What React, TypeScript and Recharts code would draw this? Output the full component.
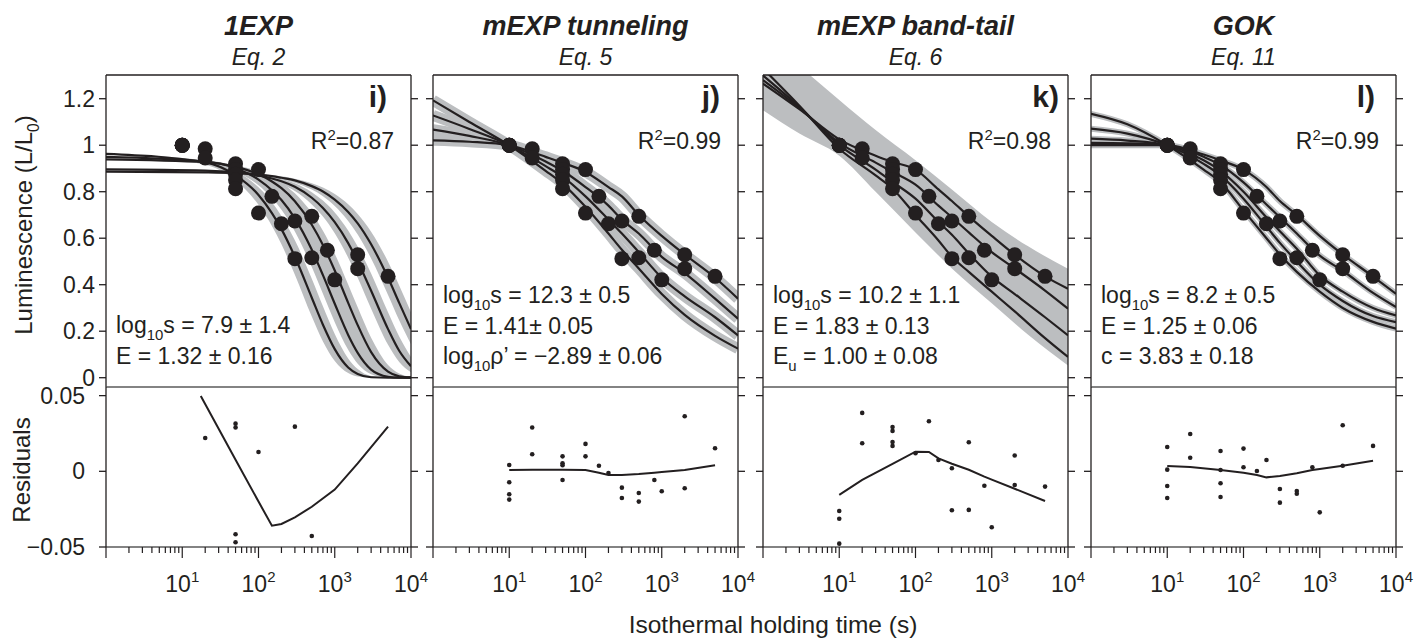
import React from 'react';
import { ComposedChart, Line, Area, Scatter, XAxis, YAxis, ReferenceLine } from 'recharts';

const INK = '#231f20';
const BAND = '#bcbec0';
const RULE = '#5a5a5a';
const FONT = '"Liberation Sans", Arial, Helvetica, sans-serif';

// layout (px)
const PANEL_LEFTS = [106, 433, 763, 1091];
const PLOT_W = 305;
const LEFT_W = 90;
const RIGHT_W = 26;
const PAD = 2;
const RES_PAD = 14;
const TOP_Y = 75;
const MID_Y = 387;
const BOT_Y = 547;
const X_H = 56;
const TOP_SPARE = 12;

// measured luminescence points (identical in every panel)
const pointTimes = [10, 10, 10, 10, 10, 20, 20, 50, 50, 50, 50, 50, 100, 100, 150, 200, 300, 300, 500, 500, 800, 1000, 2000, 2000, 5000];
const pointLum = [1.0, 1.0, 1.0, 1.0, 1.0, 0.985, 0.945, 0.92, 0.895, 0.875, 0.85, 0.813, 0.895, 0.708, 0.78, 0.662, 0.674, 0.512, 0.694, 0.516, 0.548, 0.421, 0.529, 0.469, 0.436];

// axis ticks
const lumTicks = [0, 0.2, 0.4, 0.6, 0.8, 1, 1.2];
const resTicks = [-0.05, 0, 0.05];
const xTicks = [
  1, 2, 3, 4, 5, 6, 7, 8, 9,
  10, 20, 30, 40, 50, 60, 70, 80, 90,
  100, 200, 300, 400, 500, 600, 700, 800, 900,
  1000, 2000, 3000, 4000, 5000, 6000, 7000, 8000, 9000,
  10000,
];
const xMajorLabels: Record<number, string> = { 10: '1', 100: '2', 1000: '3', 10000: '4' };
const xMajors = [1, 10, 100, 1000, 10000];
const LUM_DOMAIN = [-0.04, 1.302];
const RES_DOMAIN = [-0.05, 0.0557];

// panel i) 1EXP fitted curves and confidence bands
const p1Times = [1, 20, 50, 100, 150, 200, 300, 500, 700, 1000, 1500, 2000, 3000, 5000, 7000, 10000];
const p1c1 = [0.963, 0.926, 0.870, 0.786, 0.708, 0.639, 0.520, 0.344, 0.228, 0.123, 0.044, 0.016, 0.002, 0, 0, 0];
const p1lo1 = [0.962, 0.916, 0.847, 0.744, 0.653, 0.574, 0.443, 0.263, 0.156, 0.072, 0.020, 0.005, 0, 0, 0, 0];
const p1hi1 = [0.963, 0.934, 0.889, 0.819, 0.755, 0.696, 0.591, 0.426, 0.307, 0.188, 0.083, 0.037, 0.007, 0, 0, 0];
const p1c2 = [0.950, 0.930, 0.901, 0.852, 0.806, 0.764, 0.685, 0.550, 0.441, 0.318, 0.184, 0.107, 0.035, 0.004, 0, 0];
const p1lo2 = [0.950, 0.925, 0.887, 0.828, 0.773, 0.722, 0.629, 0.476, 0.361, 0.239, 0.120, 0.060, 0.015, 0.001, 0, 0];
const p1hi2 = [0.950, 0.935, 0.910, 0.872, 0.835, 0.799, 0.732, 0.615, 0.517, 0.398, 0.258, 0.166, 0.070, 0.012, 0.002, 0];
const p1c3 = [0.939, 0.927, 0.907, 0.875, 0.844, 0.815, 0.759, 0.658, 0.571, 0.461, 0.322, 0.226, 0.110, 0.026, 0.006, 0.001];
const p1lo3 = [0.939, 0.923, 0.899, 0.859, 0.822, 0.785, 0.717, 0.600, 0.501, 0.383, 0.243, 0.155, 0.063, 0.010, 0.002, 0];
const p1hi3 = [0.939, 0.930, 0.914, 0.888, 0.863, 0.839, 0.793, 0.708, 0.632, 0.533, 0.401, 0.303, 0.172, 0.055, 0.018, 0.003];
const p1c4 = [0.896, 0.891, 0.883, 0.870, 0.857, 0.845, 0.821, 0.774, 0.730, 0.669, 0.579, 0.500, 0.374, 0.209, 0.116, 0.049];
const p1lo4 = [0.896, 0.890, 0.880, 0.864, 0.848, 0.832, 0.803, 0.745, 0.693, 0.621, 0.516, 0.430, 0.297, 0.142, 0.068, 0.023];
const p1hi4 = [0.896, 0.892, 0.886, 0.875, 0.866, 0.856, 0.836, 0.798, 0.762, 0.711, 0.633, 0.564, 0.448, 0.281, 0.177, 0.089];
const p1c5 = [0.886, 0.883, 0.880, 0.874, 0.867, 0.860, 0.849, 0.824, 0.801, 0.766, 0.713, 0.664, 0.574, 0.430, 0.322, 0.209];
const p1lo5 = [0.886, 0.882, 0.878, 0.870, 0.862, 0.854, 0.839, 0.809, 0.780, 0.738, 0.674, 0.616, 0.513, 0.356, 0.247, 0.144];
const p1hi5 = [0.886, 0.884, 0.881, 0.876, 0.871, 0.866, 0.856, 0.836, 0.818, 0.790, 0.746, 0.704, 0.628, 0.499, 0.397, 0.281];

// panel j) mEXP tunneling
const p2Times = [1, 3, 10, 30, 50, 100, 200, 300, 500, 1000, 2000, 5000, 10000];
const p2c1 = [1.193, 1.10, 1.0, 0.89, 0.835, 0.735, 0.62, 0.55, 0.47, 0.36, 0.27, 0.18, 0.125];
const p2c2 = [1.128, 1.07, 1.0, 0.91, 0.865, 0.78, 0.68, 0.62, 0.54, 0.43, 0.35, 0.26, 0.182];
const p2c3 = [1.067, 1.04, 1.0, 0.93, 0.89, 0.82, 0.74, 0.68, 0.62, 0.52, 0.45, 0.34, 0.254];
const p2c4 = [1.021, 1.015, 1.0, 0.95, 0.925, 0.885, 0.82, 0.78, 0.70, 0.61, 0.53, 0.43, 0.34];

// panel k) mEXP band-tail
const p3Times = [1, 3, 10, 30, 50, 100, 200, 300, 500, 1000, 2000, 5000, 10000];
const p3c1 = [1.33, 1.17, 0.985, 0.87, 0.813, 0.70, 0.59, 0.52, 0.455, 0.37, 0.285, 0.17, 0.089];
const p3c2 = [1.30, 1.165, 1.0, 0.895, 0.842, 0.77, 0.67, 0.615, 0.535, 0.435, 0.36, 0.26, 0.182];
const p3c3 = [1.28, 1.16, 1.01, 0.925, 0.885, 0.83, 0.74, 0.69, 0.625, 0.54, 0.47, 0.375, 0.297];
const p3c4 = [1.265, 1.155, 1.025, 0.955, 0.928, 0.895, 0.81, 0.76, 0.694, 0.61, 0.529, 0.436, 0.383];
const p3BandTimes = [1, 3, 10, 30, 100, 300, 1000, 3000, 10000];
const p3BandLo = [1.15, 1.05, 0.955, 0.80, 0.625, 0.47, 0.32, 0.185, 0.053];
const p3BandHi = [1.47, 1.34, 1.195, 1.065, 0.935, 0.81, 0.67, 0.565, 0.469];

// panel l) GOK
const p4Times = [1, 3, 10, 30, 50, 100, 200, 300, 500, 1000, 2000, 5000, 10000];
const p4c1 = [1.135, 1.09, 1.0, 0.895, 0.84, 0.72, 0.60, 0.53, 0.455, 0.37, 0.30, 0.24, 0.211];
const p4c2 = [1.071, 1.05, 1.0, 0.92, 0.87, 0.77, 0.65, 0.58, 0.50, 0.40, 0.33, 0.265, 0.239];
const p4c3 = [1.028, 1.02, 1.0, 0.935, 0.89, 0.80, 0.69, 0.63, 0.555, 0.44, 0.37, 0.30, 0.268];
const p4c4 = [1.01, 1.008, 1.0, 0.95, 0.915, 0.84, 0.745, 0.69, 0.62, 0.525, 0.46, 0.365, 0.304];
const p4c5 = [1.0, 1.0, 1.0, 0.96, 0.935, 0.895, 0.82, 0.76, 0.70, 0.61, 0.53, 0.435, 0.361];

// residuals: points and trend lines
const r1Times = [20, 50, 50, 50, 50, 100, 300, 500];
const r1Values = [0.022, 0.0315, 0.0289, -0.0416, -0.0469, 0.0128, 0.0295, -0.0427];
const r1LineTimes = [17.5, 50, 100, 150, 200, 300, 500, 1000, 2000, 5000];
const r1LineValues = [0.0497, 0.0077, -0.02, -0.0359, -0.0348, -0.0304, -0.0234, -0.0121, 0.0053, 0.0295];

const r2Times = [10, 10, 10, 10, 20, 20, 50, 50, 50, 50, 100, 100, 150, 200, 300, 300, 500, 500, 800, 1000, 2000, 2000, 5000];
const r2Values = [0.0042, -0.0072, -0.0152, -0.0187, 0.0289, 0.0113, 0.0099, 0.0053, 0.004, -0.0057, 0.0181, 0.0099, 0.0037, -0.0011, -0.0108, -0.0176, -0.0143, -0.02, -0.0057, -0.0132, 0.0364, -0.0112, 0.0152];
const r2LineTimes = [10, 20, 50, 100, 150, 200, 300, 500, 800, 1000, 2000, 5000];
const r2LineValues = [0.0009, 0.0011, 0.0011, 0.0009, -0.0009, -0.0024, -0.0024, -0.0018, -0.0009, -0.0005, 0.0009, 0.004];

const r3Times = [10, 10, 10, 20, 20, 50, 50, 50, 50, 100, 150, 200, 300, 300, 500, 500, 800, 1000, 2000, 2000, 5000];
const r3Values = [-0.0262, -0.0313, -0.0478, 0.0386, 0.0185, 0.0293, 0.0267, 0.0194, 0.0168, 0.0119, 0.0331, 0.0075, 0.002, -0.0257, 0.0192, -0.0255, -0.0095, -0.037, 0.0104, -0.009, -0.0101];
const r3LineTimes = [10, 20, 50, 100, 150, 200, 300, 500, 800, 1000, 2000, 5000];
const r3LineValues = [-0.0156, -0.0057, 0.0049, 0.013, 0.0128, 0.0085, 0.005, 0.001, -0.0035, -0.0055, -0.0115, -0.0196];

const r4Times = [10, 10, 10, 10, 20, 20, 50, 50, 50, 50, 100, 100, 150, 200, 300, 300, 500, 500, 800, 1000, 2000, 2000, 5000];
const r4Values = [0.0161, 0.0011, -0.0097, -0.0176, 0.0247, 0.009, 0.0134, 0.0009, -0.0079, -0.017, 0.015, 0.0027, 0.0002, 0.0075, -0.0117, -0.0207, -0.013, -0.0148, 0.0027, -0.0271, 0.0304, 0.0037, 0.0168];
const r4LineTimes = [10, 20, 50, 100, 150, 200, 300, 500, 800, 1000, 2000, 5000];
const r4LineValues = [0.0035, 0.0029, 0.0009, -0.0009, -0.0024, -0.004, -0.0031, -0.0013, 0.0009, 0.0016, 0.0037, 0.007];

// text
const titles = ['1EXP', 'mEXP tunneling', 'mEXP band-tail', 'GOK'];
const eqLabels = ['Eq. 2', 'Eq. 5', 'Eq. 6', 'Eq. 11'];
const panelTags = ['i)', 'j)', 'k)', 'l)'];
const tagRight = [387, 720, 1059, 1375];
const r2Labels = ['0.87', '0.99', '0.98', '0.99'];

type Seg = [string, ('sub' | 'sup')?];
const fitText: Seg[][][] = [
  [
    [['log'], ['10', 'sub'], ['s = 7.9 ± 1.4']],
    [['E = 1.32 ± 0.16']],
  ],
  [
    [['log'], ['10', 'sub'], ['s = 12.3 ± 0.5']],
    [['E = 1.41± 0.05']],
    [['log'], ['10', 'sub'], ['ρ’ = −2.89 ± 0.06']],
  ],
  [
    [['log'], ['10', 'sub'], ['s = 10.2 ± 1.1']],
    [['E = 1.83 ± 0.13']],
    [['E'], ['u', 'sub'], [' = 1.00 ± 0.08']],
  ],
  [
    [['log'], ['10', 'sub'], ['s = 8.2 ± 0.5']],
    [['E = 1.25 ± 0.06']],
    [['c = 3.83 ± 0.18']],
  ],
];

const rows = (ts: number[], vs: number[]) => ts.map((t, i) => ({ t, v: vs[i] }));
const rangeRows = (ts: number[], lo: number[], hi: number[]) => ts.map((t, i) => ({ t, r: [lo[i], hi[i]] }));

const panels = [
  {
    times: p1Times,
    curves: [p1c1, p1c2, p1c3, p1c4, p1c5],
    bands: [
      rangeRows(p1Times, p1lo1, p1hi1),
      rangeRows(p1Times, p1lo2, p1hi2),
      rangeRows(p1Times, p1lo3, p1hi3),
      rangeRows(p1Times, p1lo4, p1hi4),
      rangeRows(p1Times, p1lo5, p1hi5),
    ],
    halo: 0,
    res: rows(r1Times, r1Values),
    resLine: rows(r1LineTimes, r1LineValues),
  },
  {
    times: p2Times,
    curves: [p2c1, p2c2, p2c3, p2c4],
    bands: [],
    halo: 11,
    res: rows(r2Times, r2Values),
    resLine: rows(r2LineTimes, r2LineValues),
  },
  {
    times: p3Times,
    curves: [p3c1, p3c2, p3c3, p3c4],
    bands: [rangeRows(p3BandTimes, p3BandLo, p3BandHi)],
    halo: 0,
    res: rows(r3Times, r3Values),
    resLine: rows(r3LineTimes, r3LineValues),
  },
  {
    times: p4Times,
    curves: [p4c1, p4c2, p4c3, p4c4, p4c5],
    bands: [],
    halo: 6,
    res: rows(r4Times, r4Values),
    resLine: rows(r4LineTimes, r4LineValues),
  },
];

const pointRows = rows(pointTimes, pointLum);

const BigDot = (p: any) => <circle cx={p.cx} cy={p.cy} r={7.5} fill={INK} />;
const SmallDot = (p: any) => <circle cx={p.cx} cy={p.cy} r={2.3} fill={INK} />;
const NoTick = () => <g />;

function YLabel({ x, y, payload, show, res }: any) {
  if (!show) return <g />;
  const v = payload.value;
  const s = res ? (v < 0 ? '−' + String(-v) : String(v)) : String(v);
  return (
    <text x={x} y={y} dy={8} textAnchor="end" fontSize={23} fontFamily={FONT} fill={INK}>
      {s}
    </text>
  );
}

function XTick({ x, y, payload }: any) {
  const v = payload.value;
  const major = xMajors.includes(v);
  const exp = xMajorLabels[v];
  return (
    <g>
      <line x1={x} x2={x} y1={y} y2={y + (major ? 11 : 6)} stroke={INK} strokeWidth={1.2} />
      {exp && (
        <text x={x} y={y + 45} textAnchor="middle" fontSize={23} fontFamily={FONT} fill={INK}>
          10<tspan dy={-10} fontSize={15}>{exp}</tspan>
        </text>
      )}
    </g>
  );
}

function Rich({ x, y, segs, size, anchor = 'start', weight, italic }: any) {
  let shift = 0;
  return (
    <text
      x={x}
      y={y}
      fontSize={size}
      fontFamily={FONT}
      fill={INK}
      textAnchor={anchor}
      fontWeight={weight}
      fontStyle={italic ? 'italic' : undefined}
    >
      {segs.map(([s, kind]: Seg, i: number) => {
        const target = kind === 'sub' ? size * 0.3 : kind === 'sup' ? -size * 0.38 : 0;
        const dy = target - shift;
        shift = target;
        return (
          <tspan key={i} dy={dy} fontSize={kind ? size * 0.65 : size}>
            {s}
          </tspan>
        );
      })}
    </text>
  );
}

const axisStroke = { stroke: INK, strokeWidth: 1.3 };

function TopChart({ i }: { i: number }) {
  const p = panels[i];
  return (
    <div style={{ position: 'absolute', left: PANEL_LEFTS[i] - LEFT_W, top: TOP_Y - PAD }}>
      <ComposedChart
        width={LEFT_W + PLOT_W + RIGHT_W}
        height={PAD + (MID_Y - TOP_Y) + TOP_SPARE}
        margin={{ top: PAD, right: 0, bottom: TOP_SPARE, left: 0 }}
      >
        <XAxis dataKey="t" type="number" scale="log" domain={[1, 10000]} allowDataOverflow hide />
        <YAxis
          type="number"
          domain={LUM_DOMAIN}
          allowDataOverflow
          ticks={lumTicks}
          interval={0}
          width={LEFT_W}
          tickSize={7}
          tickMargin={4}
          axisLine={axisStroke}
          tickLine={axisStroke}
          tick={(t: any) => <YLabel {...t} show={i === 0} />}
        />
        <YAxis
          yAxisId="r"
          orientation="right"
          type="number"
          domain={LUM_DOMAIN}
          allowDataOverflow
          ticks={lumTicks}
          interval={0}
          width={RIGHT_W}
          tickSize={7}
          axisLine={axisStroke}
          tickLine={axisStroke}
          tick={NoTick}
        />
        <ReferenceLine y={LUM_DOMAIN[1]} stroke={INK} strokeWidth={1.3} />
        <ReferenceLine y={LUM_DOMAIN[0]} stroke={RULE} strokeWidth={1.2} />
        {p.bands.map((b, k) => (
          <Area
            key={'band' + k}
            data={b}
            dataKey="r"
            type="monotone"
            stroke="none"
            fill={BAND}
            fillOpacity={1}
            dot={false}
            activeDot={false}
            isAnimationActive={false}
          />
        ))}
        {p.halo > 0 &&
          p.curves.map((c, k) => (
            <Line
              key={'halo' + k}
              data={rows(p.times, c)}
              dataKey="v"
              type="monotone"
              stroke={BAND}
              strokeWidth={p.halo}
              dot={false}
              activeDot={false}
              isAnimationActive={false}
            />
          ))}
        {p.curves.map((c, k) => (
          <Line
            key={'fit' + k}
            data={rows(p.times, c)}
            dataKey="v"
            type="monotone"
            stroke={INK}
            strokeWidth={2.2}
            dot={false}
            activeDot={false}
            isAnimationActive={false}
          />
        ))}
        <Scatter data={pointRows} dataKey="v" shape={BigDot} isAnimationActive={false} />
      </ComposedChart>
    </div>
  );
}

function ResChart({ i }: { i: number }) {
  const p = panels[i];
  return (
    <div style={{ position: 'absolute', left: PANEL_LEFTS[i] - LEFT_W, top: MID_Y - RES_PAD }}>
      <ComposedChart
        width={LEFT_W + PLOT_W + RIGHT_W}
        height={RES_PAD + (BOT_Y - MID_Y) + X_H}
        margin={{ top: RES_PAD, right: 0, bottom: 0, left: 0 }}
      >
        <XAxis
          dataKey="t"
          type="number"
          scale="log"
          domain={[1, 10000]}
          allowDataOverflow
          ticks={xTicks}
          interval={0}
          height={X_H}
          tickSize={0}
          tickMargin={0}
          tickLine={false}
          axisLine={{ stroke: RULE, strokeWidth: 1.3 }}
          tick={XTick}
        />
        <YAxis
          type="number"
          domain={RES_DOMAIN}
          allowDataOverflow
          ticks={resTicks}
          interval={0}
          width={LEFT_W}
          tickSize={7}
          tickMargin={14}
          axisLine={axisStroke}
          tickLine={axisStroke}
          tick={(t: any) => <YLabel {...t} show={i === 0} res />}
        />
        <YAxis
          yAxisId="r"
          orientation="right"
          type="number"
          domain={RES_DOMAIN}
          allowDataOverflow
          ticks={resTicks}
          interval={0}
          width={RIGHT_W}
          tickSize={7}
          axisLine={axisStroke}
          tickLine={axisStroke}
          tick={NoTick}
        />
        <ReferenceLine y={RES_DOMAIN[1]} stroke={RULE} strokeWidth={1.2} />
        <Line
          data={p.resLine}
          dataKey="v"
          type="linear"
          stroke={INK}
          strokeWidth={2}
          dot={false}
          activeDot={false}
          isAnimationActive={false}
        />
        <Scatter data={p.res} dataKey="v" shape={SmallDot} isAnimationActive={false} />
      </ComposedChart>
    </div>
  );
}

export default function App() {
  return (
    <div style={{ position: 'absolute', left: 0, top: 0, width: 1416, height: 641, background: '#fff' }}>
      {panels.map((_, i) => (
        <React.Fragment key={i}>
          <TopChart i={i} />
          <ResChart i={i} />
        </React.Fragment>
      ))}
      <svg
        width={1416}
        height={641}
        style={{ position: 'absolute', left: 0, top: 0, pointerEvents: 'none' }}
      >
        {PANEL_LEFTS.map((left, i) => {
          const cx = left + PLOT_W / 2;
          const right = left + PLOT_W;
          const lines = fitText[i];
          const baselines = lines.length === 3 ? [303, 334, 364] : [333, 364];
          return (
            <g key={i}>
              <Rich x={cx} y={35} segs={[[titles[i]]]} size={27} anchor="middle" weight="bold" italic />
              <Rich x={cx} y={65} segs={[[eqLabels[i]]]} size={23} anchor="middle" italic />
              <Rich x={tagRight[i]} y={107} segs={[[panelTags[i]]]} size={30} anchor="end" weight="bold" />
              <Rich x={right - 17} y={149} segs={[['R'], ['2', 'sup'], ['=' + r2Labels[i]]]} size={23} anchor="end" />
              {lines.map((segs, k) => (
                <Rich key={k} x={left + 10} y={baselines[k]} segs={segs} size={23} />
              ))}
            </g>
          );
        })}
        <g transform="translate(32,225) rotate(-90)">
          <Rich x={0} y={0} segs={[['Luminescence (L/L'], ['0', 'sub'], [')']]} size={24} anchor="middle" />
        </g>
        <g transform="translate(30,470) rotate(-90)">
          <Rich x={0} y={0} segs={[['Residuals']]} size={24} anchor="middle" />
        </g>
        <Rich x={773} y={633} segs={[['Isothermal holding time (s)']]} size={24.5} anchor="middle" />
      </svg>
    </div>
  );
}
